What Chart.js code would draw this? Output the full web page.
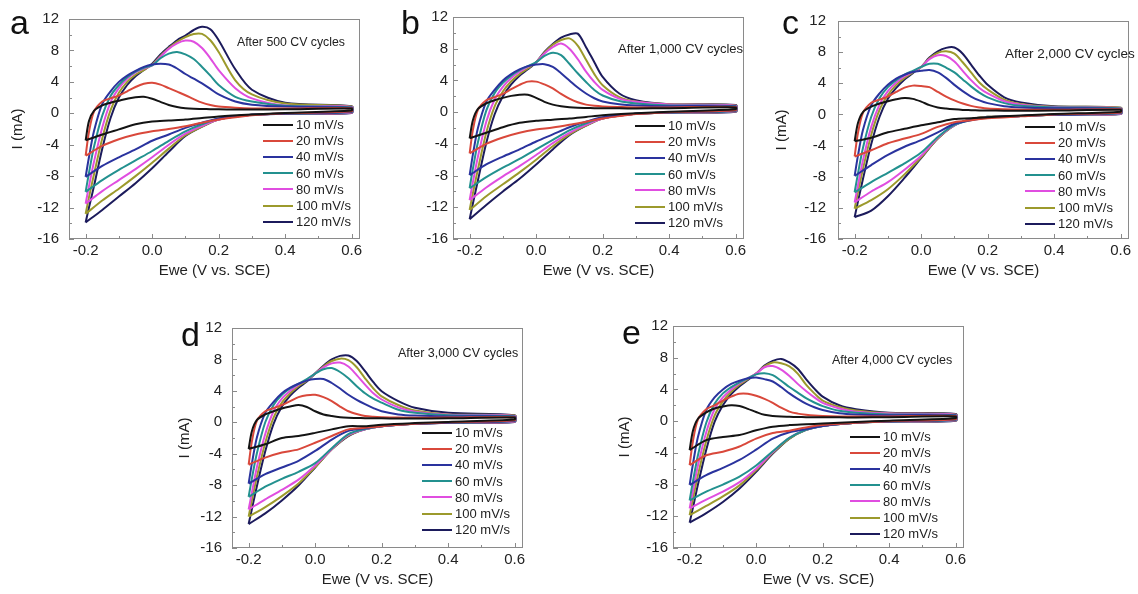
<!DOCTYPE html>
<html>
<head>
<meta charset="utf-8">
<script src="https://cdn.jsdelivr.net/npm/chart.js@4.4.0/dist/chart.umd.min.js"></script>
<style>
body { margin: 0; background: #fff; width: 1138px; height: 594px; overflow: hidden; position: relative;
       font-family: "Liberation Sans", Arial, sans-serif; color: #222; }
.panel { position: absolute; width: 370px; height: 290px; }
.letter { position: absolute; font-size: 34px; line-height: 34px; color: #111; }
.note { position: absolute; font-size: 12px; line-height: 14px; white-space: nowrap; }
.legend { position: absolute; font-size: 13px; }
.legend div { height: 16.2px; line-height: 16px; white-space: nowrap; }
.legend span { display: inline-block; width: 30px; height: 2px; vertical-align: middle; margin: 0 3px 2px 0; }
</style>
</head>
<body>
<script>
// potential grid (V vs SCE) for the anodic and the cathodic sweep
const X_FWD = [-0.2, -0.19, -0.175, -0.15, -0.125, -0.1, -0.075, -0.05, -0.025, 0, 0.025, 0.05, 0.075, 0.1, 0.125, 0.15, 0.175, 0.2, 0.25, 0.3, 0.4, 0.6];
const X_REV = [0.6, 0.4, 0.3, 0.2, 0.15, 0.1, 0.05, 0, -0.05, -0.1, -0.15, -0.2];

const RATES = ['10 mV/s', '20 mV/s', '40 mV/s', '60 mV/s', '80 mV/s', '100 mV/s', '120 mV/s'];
const SERIES_COLORS = ['#141414', '#d9483b', '#2a339e', '#23918f', '#e04ee0', '#9c9a2c', '#1c1b5c'];

const X_TICKS = [-0.2, 0, 0.2, 0.4, 0.6];
const X_MINOR = [-0.1, 0.1, 0.3, 0.5];
const Y_TICKS = [-16, -12, -8, -4, 0, 4, 8, 12];
const Y_MINOR = [-14, -10, -6, -2, 2, 6, 10];

// current (mA), one row per scan rate
// a: after 500 cycles
const FWD_A = [
  [-3.45, -1.0, 0.3, 1.0, 1.35, 1.6, 1.85, 2.05, 2.1, 1.85, 1.45, 1.05, 0.8, 0.65, 0.58, 0.55, 0.52, 0.5, 0.48, 0.47, 0.5, 0.6],
  [-5.4, -2.4, 0.2, 1.5, 1.9, 2.25, 2.8, 3.35, 3.75, 3.9, 3.65, 3.2, 2.75, 2.3, 1.8, 1.35, 1.05, 0.85, 0.7, 0.62, 0.6, 0.65],
  [-8.1, -5.6, -2.3, 1.2, 2.8, 4.0, 4.8, 5.4, 5.9, 6.2, 6.3, 6.2, 5.7, 5.0, 4.4, 3.8, 3.1, 2.4, 1.5, 1.1, 0.85, 0.7],
  [-10.0, -7.6, -4.3, -0.3, 2.2, 3.6, 4.6, 5.3, 5.8, 6.1, 7.0, 7.6, 7.8, 7.5, 6.9, 5.9, 4.8, 3.6, 2.1, 1.5, 0.95, 0.75],
  [-11.5, -9.3, -6.2, -1.8, 1.4, 3.2, 4.4, 5.2, 5.7, 6.1, 7.2, 8.2, 8.9, 9.25, 9.1, 8.3, 7.0, 5.5, 3.2, 1.9, 1.0, 0.8],
  [-12.8, -10.7, -7.8, -3.2, 0.4, 2.6, 4.0, 4.9, 5.5, 6.2, 7.3, 8.3, 9.1, 9.7, 10.1, 10.1, 9.3, 7.8, 4.2, 2.4, 1.25, 0.85],
  [-13.9, -12.0, -9.3, -4.5, -0.6, 2.0, 3.6, 4.7, 5.5, 6.3, 7.5, 8.45, 9.3, 9.9, 10.6, 11.0, 10.7, 9.3, 5.6, 3.0, 1.35, 0.9]
];
const REV_A = [
  [0.35, 0.05, -0.15, -0.4, -0.6, -0.8, -0.92, -1.05, -1.4, -2.05, -2.7, -3.45],
  [0.25, 0.0, -0.25, -0.8, -1.2, -1.65, -2.0, -2.3, -2.7, -3.3, -4.15, -5.4],
  [0.2, -0.05, -0.2, -0.65, -1.2, -1.85, -2.7, -3.5, -4.6, -5.6, -6.7, -8.1],
  [0.15, -0.05, -0.2, -0.7, -1.4, -2.3, -3.5, -4.8, -6.0, -7.2, -8.5, -10.0],
  [0.1, -0.05, -0.2, -0.8, -1.6, -2.6, -4.0, -5.6, -7.1, -8.5, -9.9, -11.5],
  [0.1, -0.05, -0.2, -0.8, -1.7, -2.8, -4.5, -6.3, -8.0, -9.6, -11.1, -12.8],
  [0.05, -0.05, -0.2, -0.8, -1.7, -2.9, -4.9, -7.0, -8.9, -10.6, -12.3, -13.9]
];

// b: after 1,000 cycles
const FWD_B = [
  [-3.3, -1.0, 0.4, 1.1, 1.5, 1.8, 2.05, 2.2, 2.2, 1.8, 1.3, 0.95, 0.75, 0.62, 0.55, 0.52, 0.5, 0.5, 0.48, 0.47, 0.5, 0.6],
  [-5.2, -2.2, 0.3, 1.5, 1.9, 2.3, 2.9, 3.45, 3.85, 3.85, 3.5, 3.0, 2.3, 1.7, 1.25, 0.95, 0.8, 0.72, 0.65, 0.6, 0.6, 0.65],
  [-7.95, -5.3, -2.0, 1.3, 2.8, 4.0, 4.8, 5.4, 5.8, 6.0, 6.05, 5.7, 4.9, 4.0, 3.1, 2.35, 1.75, 1.35, 1.0, 0.85, 0.75, 0.7],
  [-9.6, -7.1, -3.8, 0.2, 2.4, 3.7, 4.6, 5.3, 5.8, 6.3, 7.1, 7.5, 7.2, 6.1, 4.9, 3.8, 2.8, 2.1, 1.4, 1.1, 0.85, 0.75],
  [-11.1, -8.8, -5.6, -1.2, 1.6, 3.2, 4.3, 5.1, 5.7, 6.3, 7.4, 8.2, 8.65, 8.0, 6.7, 5.1, 3.8, 2.8, 1.7, 1.3, 0.95, 0.8],
  [-12.35, -10.2, -7.2, -2.6, 0.7, 2.6, 3.9, 4.8, 5.5, 6.3, 7.5, 8.5, 9.1, 9.3, 8.4, 6.6, 4.8, 3.4, 1.9, 1.35, 1.0, 0.85],
  [-13.5, -11.5, -8.6, -3.9, -0.3, 2.0, 3.5, 4.6, 5.4, 6.3, 7.6, 8.6, 9.4, 9.8, 9.9, 8.2, 6.3, 4.45, 2.35, 1.5, 1.0, 0.9]
];
const REV_B = [
  [0.35, 0.05, -0.15, -0.4, -0.6, -0.8, -0.95, -1.1, -1.35, -1.9, -2.6, -3.3],
  [0.25, 0.0, -0.25, -0.8, -1.2, -1.6, -1.95, -2.2, -2.6, -3.2, -4.0, -5.2],
  [0.2, -0.05, -0.2, -0.65, -1.2, -1.9, -2.8, -3.7, -4.7, -5.6, -6.6, -7.95],
  [0.15, -0.05, -0.2, -0.7, -1.4, -2.3, -3.5, -4.7, -5.9, -7.0, -8.2, -9.6],
  [0.1, -0.05, -0.2, -0.8, -1.6, -2.6, -3.9, -5.4, -6.8, -8.1, -9.5, -11.1],
  [0.1, -0.05, -0.2, -0.8, -1.7, -2.8, -4.3, -6.0, -7.6, -9.1, -10.6, -12.35],
  [0.05, -0.05, -0.2, -0.8, -1.7, -2.9, -4.7, -6.6, -8.4, -10.0, -11.7, -13.5]
];

// c: after 2,000 cycles
const FWD_C = [
  [-3.45, -1.1, 0.3, 1.0, 1.4, 1.7, 1.95, 2.1, 2.0, 1.65, 1.2, 0.9, 0.75, 0.65, 0.58, 0.55, 0.52, 0.5, 0.48, 0.47, 0.5, 0.6],
  [-5.4, -2.4, 0.2, 1.5, 1.9, 2.3, 2.9, 3.45, 3.7, 3.65, 3.5, 2.9, 2.3, 1.8, 1.4, 1.1, 0.9, 0.75, 0.65, 0.6, 0.6, 0.65],
  [-7.9, -5.3, -2.0, 1.2, 2.7, 3.8, 4.6, 5.1, 5.45, 5.6, 5.7, 5.4, 4.7, 3.8, 3.0, 2.3, 1.8, 1.45, 1.05, 0.9, 0.8, 0.7],
  [-10.0, -7.6, -4.3, -0.3, 2.1, 3.5, 4.4, 5.1, 5.6, 6.1, 6.5, 6.5, 6.0, 5.4, 4.5, 3.6, 2.8, 2.2, 1.45, 1.1, 0.9, 0.75],
  [-11.3, -9.1, -5.9, -1.6, 1.3, 3.0, 4.1, 4.9, 5.5, 6.1, 7.1, 7.6, 7.5, 6.8, 5.6, 4.4, 3.4, 2.7, 1.7, 1.25, 0.95, 0.8],
  [-12.1, -10.0, -7.0, -2.6, 0.6, 2.5, 3.8, 4.7, 5.4, 6.1, 7.2, 7.9, 8.1, 7.8, 6.7, 5.4, 4.1, 3.2, 1.9, 1.35, 1.0, 0.85],
  [-13.2, -11.2, -8.3, -3.8, -0.3, 2.0, 3.4, 4.5, 5.3, 6.1, 7.3, 8.1, 8.55, 8.6, 7.8, 6.4, 5.0, 3.8, 2.2, 1.55, 1.05, 0.85]
];
const REV_C = [
  [0.35, 0.05, -0.15, -0.35, -0.5, -0.6, -1.0, -1.4, -1.85, -2.3, -3.0, -3.45],
  [0.25, 0.0, -0.25, -0.5, -0.75, -1.0, -1.6, -2.5, -3.1, -3.7, -4.6, -5.4],
  [0.2, -0.05, -0.2, -0.4, -0.75, -1.2, -2.3, -3.3, -4.15, -5.2, -6.5, -7.9],
  [0.15, -0.05, -0.2, -0.35, -0.7, -1.35, -2.9, -4.9, -6.3, -7.5, -8.7, -10.0],
  [0.1, -0.05, -0.2, -0.35, -0.65, -1.4, -3.0, -5.3, -7.1, -8.7, -9.9, -11.3],
  [0.1, -0.05, -0.2, -0.3, -0.6, -1.4, -3.1, -5.5, -7.7, -9.6, -11.0, -12.1],
  [0.05, -0.05, -0.2, -0.3, -0.6, -1.4, -3.1, -5.6, -8.15, -10.5, -12.35, -13.2]
];

// d: after 3,000 cycles
const FWD_D = [
  [-3.4, -1.1, 0.3, 1.0, 1.4, 1.75, 2.0, 2.2, 1.95, 1.4, 1.0, 0.8, 0.65, 0.58, 0.55, 0.52, 0.5, 0.5, 0.48, 0.47, 0.5, 0.6],
  [-5.4, -2.4, 0.2, 1.4, 1.8, 2.2, 2.7, 3.2, 3.45, 3.5, 3.2, 2.7, 2.0, 1.4, 1.05, 0.8, 0.7, 0.65, 0.6, 0.58, 0.6, 0.65],
  [-7.8, -5.2, -1.9, 1.2, 2.6, 3.7, 4.4, 4.9, 5.3, 5.5, 5.5, 5.0, 4.3, 3.5, 2.85, 2.3, 1.8, 1.4, 1.0, 0.85, 0.75, 0.7],
  [-9.5, -7.1, -3.9, 0.0, 2.2, 3.5, 4.3, 4.9, 5.5, 6.2, 6.75, 6.9, 6.4, 5.6, 4.6, 3.7, 3.0, 2.5, 1.6, 1.2, 0.9, 0.75],
  [-11.1, -8.9, -5.7, -1.5, 1.4, 3.0, 4.0, 4.8, 5.4, 6.2, 7.0, 7.5, 7.6, 7.1, 6.0, 4.8, 3.7, 2.9, 1.9, 1.35, 0.95, 0.8],
  [-12.0, -9.9, -6.9, -2.6, 0.6, 2.5, 3.7, 4.6, 5.3, 6.2, 7.1, 7.8, 8.1, 7.9, 7.0, 5.6, 4.3, 3.3, 2.2, 1.5, 1.0, 0.85],
  [-12.95, -11.0, -8.1, -3.7, -0.2, 2.0, 3.4, 4.4, 5.2, 6.2, 7.2, 8.0, 8.45, 8.5, 7.8, 6.5, 5.1, 3.95, 2.7, 1.85, 1.2, 0.9]
];
const REV_D = [
  [0.35, 0.05, -0.1, -0.3, -0.5, -0.5, -0.9, -1.35, -1.75, -2.0, -2.8, -3.4],
  [0.25, 0.0, -0.2, -0.5, -0.7, -0.9, -1.75, -2.6, -3.45, -3.85, -4.5, -5.4],
  [0.2, -0.05, -0.2, -0.5, -0.75, -1.1, -2.2, -3.65, -4.9, -5.75, -6.6, -7.8],
  [0.15, -0.05, -0.2, -0.5, -0.85, -1.5, -3.3, -5.2, -6.3, -7.2, -8.2, -9.5],
  [0.1, -0.05, -0.2, -0.5, -0.9, -1.6, -3.4, -5.5, -7.3, -8.6, -9.8, -11.1],
  [0.1, -0.05, -0.2, -0.5, -0.9, -1.7, -3.45, -5.7, -7.8, -9.4, -10.8, -12.0],
  [0.05, -0.05, -0.2, -0.5, -0.9, -1.75, -3.45, -5.75, -8.05, -9.95, -11.6, -12.95]
];

// e: after 4,000 cycles
const FWD_E = [
  [-3.65, -1.2, 0.3, 1.1, 1.6, 1.85, 2.0, 1.9, 1.55, 1.15, 0.8, 0.65, 0.58, 0.55, 0.52, 0.5, 0.5, 0.5, 0.48, 0.47, 0.5, 0.6],
  [-5.55, -2.5, 0.2, 1.5, 2.0, 2.6, 3.1, 3.45, 3.45, 3.2, 2.8, 2.3, 1.7, 1.2, 0.95, 0.8, 0.7, 0.65, 0.6, 0.58, 0.6, 0.65],
  [-8.05, -5.4, -2.0, 1.4, 3.0, 4.0, 4.7, 5.1, 5.4, 5.5, 5.3, 5.0, 4.3, 3.5, 2.8, 2.2, 1.75, 1.4, 1.0, 0.85, 0.75, 0.7],
  [-10.0, -7.6, -4.3, -0.2, 2.2, 3.5, 4.3, 4.9, 5.4, 5.9, 6.05, 5.8, 5.1, 4.3, 3.6, 2.9, 2.35, 1.9, 1.3, 1.05, 0.85, 0.75],
  [-11.0, -8.8, -5.6, -1.4, 1.5, 3.0, 4.0, 4.8, 5.4, 6.0, 6.8, 6.95, 6.5, 5.7, 4.7, 3.8, 3.0, 2.3, 1.6, 1.2, 0.95, 0.8],
  [-11.85, -9.8, -6.8, -2.5, 0.7, 2.5, 3.7, 4.6, 5.3, 6.0, 6.9, 7.4, 7.3, 6.9, 6.0, 4.6, 3.5, 2.6, 1.8, 1.35, 1.0, 0.85],
  [-12.8, -10.9, -8.0, -3.6, -0.1, 2.0, 3.4, 4.4, 5.2, 6.0, 7.0, 7.6, 7.85, 7.4, 6.6, 5.3, 4.1, 3.1, 2.0, 1.5, 1.05, 0.9]
];
const REV_E = [
  [0.35, 0.05, -0.1, -0.3, -0.4, -0.5, -0.7, -1.15, -1.75, -2.0, -2.4, -3.65],
  [0.25, 0.0, -0.2, -0.5, -0.8, -1.2, -1.5, -2.2, -3.2, -3.85, -4.3, -5.55],
  [0.2, -0.05, -0.2, -0.6, -1.0, -1.4, -2.2, -3.6, -4.9, -5.9, -6.8, -8.05],
  [0.15, -0.05, -0.2, -0.6, -1.1, -2.1, -3.8, -5.6, -7.0, -8.0, -8.9, -10.0],
  [0.1, -0.05, -0.2, -0.6, -1.1, -2.1, -3.9, -6.0, -7.7, -8.9, -9.9, -11.0],
  [0.1, -0.05, -0.2, -0.6, -1.1, -2.2, -4.0, -6.2, -8.1, -9.5, -10.7, -11.85],
  [0.05, -0.05, -0.2, -0.6, -1.1, -2.2, -4.1, -6.4, -8.5, -10.2, -11.6, -12.8]
];

const PANELS = [
  { letter: 'a', note: 'After 500 CV cycles', fwd: FWD_A, rev: REV_A },
  { letter: 'b', note: 'After 1,000 CV cycles', fwd: FWD_B, rev: REV_B },
  { letter: 'c', note: 'After 2,000 CV cycles', fwd: FWD_C, rev: REV_C },
  { letter: 'd', note: 'After 3,000 CV cycles', fwd: FWD_D, rev: REV_D },
  { letter: 'e', note: 'After 4,000 CV cycles', fwd: FWD_E, rev: REV_E }
];

// where each panel sits on the page (plot-area corner, label offsets)
const LAYOUT = [
  { left: 69,  top: 17,  letterX: 10,  letterY: 5,   yTitle: true,  yTitlePad: 9,  yTickPad: 10, noteX: 168, noteY: 18, noteSize: 12.3, legX: 194, legY: 100 },
  { left: 453, top: 17,  letterX: 401, letterY: 5,   yTitle: false, yTitlePad: 9,  yTickPad: 5,  noteX: 165, noteY: 25, noteSize: 13,   legX: 182, legY: 101 },
  { left: 838, top: 17,  letterX: 782, letterY: 5,   yTitle: true,  yTitlePad: 4,  yTickPad: 12, noteX: 167, noteY: 30, noteSize: 13.5, legX: 187, legY: 102 },
  { left: 232, top: 326, letterX: 181, letterY: 317, yTitle: true,  yTitlePad: 13, yTickPad: 10, noteX: 166, noteY: 20, noteSize: 12.5, legX: 190, legY: 99 },
  { left: 673, top: 326, letterX: 622, letterY: 315, yTitle: true,  yTitlePad: 12, yTickPad: 5,  noteX: 159, noteY: 27, noteSize: 12.5, legX: 177, legY: 103 }
];

const FONT = '"Liberation Sans", Arial, sans-serif';

// box round the plot with inward ticks
const frameTicks = {
  id: 'frameTicks',
  afterDraw(chart) {
    const { ctx, chartArea: a, scales: { x, y } } = chart;
    ctx.save();
    ctx.strokeStyle = '#8a8a8a';
    ctx.lineWidth = 1;
    ctx.strokeRect(a.left + 0.5, a.top + 0.5, a.right - a.left - 1, a.bottom - a.top - 1);
    ctx.beginPath();
    X_TICKS.forEach(v => { const p = Math.round(x.getPixelForValue(v)) + 0.5; ctx.moveTo(p, a.bottom); ctx.lineTo(p, a.bottom - 5); });
    X_MINOR.forEach(v => { const p = Math.round(x.getPixelForValue(v)) + 0.5; ctx.moveTo(p, a.bottom); ctx.lineTo(p, a.bottom - 3); });
    Y_TICKS.forEach(v => { const p = Math.round(y.getPixelForValue(v)) + 0.5; ctx.moveTo(a.left, p); ctx.lineTo(a.left + 5, p); });
    Y_MINOR.forEach(v => { const p = Math.round(y.getPixelForValue(v)) + 0.5; ctx.moveTo(a.left, p); ctx.lineTo(a.left + 3, p); });
    ctx.stroke();
    ctx.restore();
  }
};

PANELS.forEach((panel, n) => {
  const L = LAYOUT[n];

  const box = document.createElement('div');
  box.className = 'panel';
  box.style.left = (L.left - 69) + 'px';
  box.style.top = (L.top - 17) + 'px';
  const canvas = document.createElement('canvas');
  canvas.width = 370;
  canvas.height = 290;
  box.appendChild(canvas);
  document.body.appendChild(box);

  const letter = document.createElement('div');
  letter.className = 'letter';
  letter.textContent = panel.letter;
  letter.style.left = L.letterX + 'px';
  letter.style.top = L.letterY + 'px';
  document.body.appendChild(letter);

  const note = document.createElement('div');
  note.className = 'note';
  note.textContent = panel.note;
  note.style.left = (L.left + L.noteX) + 'px';
  note.style.top = (L.top + L.noteY) + 'px';
  note.style.fontSize = L.noteSize + 'px';
  document.body.appendChild(note);

  const legend = document.createElement('div');
  legend.className = 'legend';
  legend.style.left = (L.left + L.legX) + 'px';
  legend.style.top = (L.top + L.legY) + 'px';
  RATES.forEach((r, k) => {
    const row = document.createElement('div');
    const line = document.createElement('span');
    line.style.background = SERIES_COLORS[k];
    row.appendChild(line);
    row.appendChild(document.createTextNode(r));
    legend.appendChild(row);
  });
  document.body.appendChild(legend);

  const datasets = RATES.map((r, k) => ({
    label: r,
    data: X_FWD.map((x, i) => ({ x: x, y: panel.fwd[k][i] }))
      .concat(X_REV.map((x, i) => ({ x: x, y: panel.rev[k][i] }))),
    borderColor: SERIES_COLORS[k],
    borderWidth: 2,
    pointRadius: 0,
    showLine: true,
    tension: 0.3,
    fill: false
  }));

  new Chart(canvas, {
    type: 'scatter',
    data: { datasets: datasets },
    options: {
      responsive: false,
      animation: false,
      layout: { padding: { top: 17, right: 10, left: 0, bottom: 0 } },
      plugins: { legend: { display: false }, tooltip: { enabled: false } },
      scales: {
        x: {
          type: 'linear', min: -0.25, max: 0.625,
          afterBuildTicks: s => { s.ticks = X_TICKS.map(v => ({ value: v })); },
          afterFit: s => { s.height = 51; },
          grid: { display: false, drawTicks: false },
          border: { display: false },
          ticks: { callback: v => Number(v).toFixed(1), font: { family: FONT, size: 15 }, color: '#222', padding: 3, maxRotation: 0, autoSkip: false },
          title: { display: true, text: 'Ewe (V vs. SCE)', font: { family: FONT, size: 15 }, color: '#222', padding: { top: 0, bottom: 10 } }
        },
        y: {
          type: 'linear', min: -16, max: 12,
          afterBuildTicks: s => { s.ticks = Y_TICKS.map(v => ({ value: v })); },
          afterFit: s => { s.width = 69; },
          grid: { display: false, drawTicks: false },
          border: { display: false },
          ticks: { font: { family: FONT, size: 15 }, color: '#222', padding: L.yTickPad },
          title: { display: L.yTitle, text: 'I (mA)', font: { family: FONT, size: 15 }, color: '#222', padding: { top: L.yTitlePad, bottom: 0 } }
        }
      }
    },
    plugins: [frameTicks]
  });
});
</script>
</body>
</html>
